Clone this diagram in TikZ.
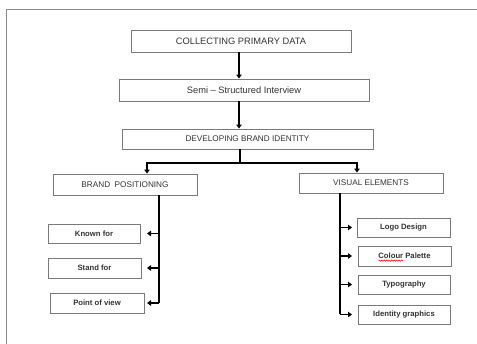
\documentclass[tikz,border=0pt]{standalone}
\usepackage{fontspec}
\setmainfont{Liberation Sans}
\usetikzlibrary{arrows.meta,calc,decorations.pathmorphing}
\definecolor{boxline}{HTML}{7A7A7A}
\definecolor{txt}{HTML}{333333}
\definecolor{frame}{HTML}{8C8C8C}
\tikzset{
  box/.style={draw=boxline,line width=0.9pt,text=txt,inner sep=0pt,align=center},
  bigbox/.style={box,font=\fontsize{9.3}{10}\selectfont},
  midbox/.style={box,font=\fontsize{8.2}{10}\selectfont},
  smallbox/.style={box,font=\bfseries\fontsize{7.7}{9}\selectfont},
  conn/.style={line width=1.7pt,black},
  arr/.style={conn,-{Triangle[width=5.5pt,length=4pt]}},
  squiggle/.style={red,line width=0.5pt,decorate,decoration={snake,amplitude=0.6pt,segment length=2.5pt}},
}
\begin{document}
\begin{tikzpicture}[x=1pt,y=-1pt]
\useasboundingbox[fill=white] (0,0) rectangle (477,344);
\draw[frame,line width=1pt] (6.5,344) -- (6.5,9.5) -- (477,9.5);

\node[bigbox,minimum width=220pt,minimum height=22pt] (c1) at (241,41) {COLLECTING PRIMARY DATA};
\node[bigbox,minimum width=250pt,minimum height=22pt] (c2) at (244,90) {Semi – Structured Interview};
\node[midbox,minimum width=251pt,minimum height=20pt] (c3) at (247.5,139) {DEVELOPING BRAND IDENTITY};
\node[midbox,minimum width=144pt,minimum height=21pt] (bp) at (125,184.5) {BRAND\ \ POSITIONING};
\node[midbox,minimum width=144pt,minimum height=20pt] (ve) at (371,183) {VISUAL ELEMENTS};

\node[smallbox,minimum width=92pt,minimum height=19pt] (kf) at (94,233.5) {Known for};
\node[smallbox,minimum width=93pt,minimum height=20pt] (sf) at (94.5,268) {Stand for};
\node[smallbox,minimum width=94pt,minimum height=20pt] (pv) at (97,303) {Point of view};

\node[smallbox,minimum width=93pt,minimum height=19pt] (ld) at (403.5,227.5) {Logo Design};
\node[smallbox,minimum width=93pt,minimum height=20pt] (cp) at (404.5,256) {Colour Palette};
\node[smallbox,minimum width=92pt,minimum height=19pt] (ty) at (404,284.5) {Typography};
\node[smallbox,minimum width=92pt,minimum height=19pt] (ig) at (404,314.5) {Identity graphics};
\draw[squiggle] ($(cp.center)+(-26,4.6)$) -- ($(cp.center)+(-1.5,4.6)$);

% top arrows
\coordinate (ax) at (239,0);
\draw[arr] (c1.south -| ax) -- (c2.north -| ax);
\draw[arr] (c2.south -| ax) -- (c3.north -| ax);

% branching
\coordinate (j) at (240,163);
\coordinate (bpin) at ($(bp.north)+(22,0)$);
\coordinate (vein) at ($(ve.north)+(-14,0)$);
\draw[conn] (c3.south -| j) -- (j);
\draw[arr] (j) -| (bpin);
\draw[arr] (j) -| (vein);

% left spine
\coordinate (ls) at ($(bp.south)+(34,0)$);
\coordinate (lt) at (147,0);
\draw[conn] (ls) -- (ls |- pv);
\draw[arr] (ls |- kf) -- (lt |- kf);
\draw[arr] (ls |- sf) -- (lt |- sf);
\draw[arr] (ls |- pv) -- (lt |- pv);

% right spine
\coordinate (rs) at (340,193);
\coordinate (rt) at (352,0);
\draw[conn] (rs) -- (rs |- ig);
\draw[arr] (rs |- ld) -- (rt |- ld);
\draw[arr] (rs |- cp) -- (rt |- cp);
\draw[arr] (rs |- ty) -- (rt |- ty);
\draw[arr] (rs |- ig) -- (rt |- ig);
\end{tikzpicture}
\end{document}
